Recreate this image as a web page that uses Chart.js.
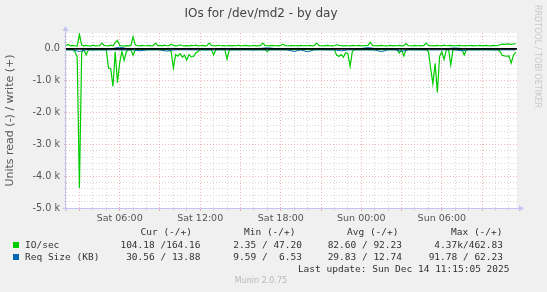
<!DOCTYPE html>
<html><head><meta charset="utf-8">
<script src="https://cdn.jsdelivr.net/npm/chart.js@4.4.1/dist/chart.umd.min.js"></script>
<style>
html,body{margin:0;padding:0;background:#f0f0f0;}
#wrap{position:relative;width:547px;height:292px;overflow:hidden;background:#f0f0f0;}
canvas{position:absolute;left:0;top:0;}
.t{position:absolute;white-space:pre;}
.mono{font-family:'DejaVu Sans Mono',monospace;font-size:9.5px;color:#333;line-height:12px;text-align:right;}
.sq{position:absolute;width:6px;height:6px;}
</style></head><body>
<div id="wrap">
<canvas id="c" width="547" height="292"></canvas>
<div class="t" style="left:0;width:522px;top:6px;text-align:center;font-family:'DejaVu Sans';font-size:12px;color:#444;line-height:15px">IOs for /dev/md2 - by day</div>
<div class="t" style="left:532px;top:5px;writing-mode:vertical-rl;font-family:'DejaVu Sans';font-size:8px;color:#c8c8c8;line-height:10px">RRDTOOL / TOBI OETIKER</div>
<div id="legend"></div>
<div class="t" style="left:0;width:522px;top:275px;text-align:center;font-family:'DejaVu Sans';font-size:8px;color:#b8b8b8;line-height:12px">Munin 2.0.75</div>
</div>
<script>
// ---- data ----
const ioStartHour = 2;        // Sat 02:00
const ioStepHours = 1/6;      // 10-minute samples
const ioWrite = [
 100,140,95,110,100,90,463,120,95,110,100,90,115,95,100,105,180,110,
 100,95,120,100,200,270,110,100,90,105,95,110,380,120,100,95,110,100,
 100,110,95,105,180,100,110,95,120,100,105,150,110,95,100,130,105,95,
 105,95,110,100,120,95,100,110,95,105,180,110,100,95,115,100,105,95,
 100,110,95,105,100,115,95,100,110,105,95,100,110,95,105,100,180,110,
 100,95,110,105,100,95,110,150,105,100,95,110,100,105,95,110,100,105,
 100,110,95,105,180,110,100,95,105,110,100,95,105,130,110,100,95,105,
 100,95,110,105,100,110,95,100,105,110,210,110,100,95,105,110,100,95,
 100,110,95,105,100,110,95,100,170,105,100,95,110,100,105,95,110,180,
 110,100,95,105,110,100,95,120,100,105,110,95,100,105,110,100,95,105,
 100,110,95,105,100,110,95,105,110,100,95,110,105,100,130,150,140,160,
 150,140,155,164.16
];
const ioRead = [
 -18,-22,-25,-18,-90,-250,-4370,-120,-25,-190,-28,-22,-18,-25,-18,-22,-28,-23,
 -25,-600,-620,-1180,-90,-1060,-430,-80,-360,-80,-25,-28,-200,-25,-22,-28,-22,-25,
 -22,-25,-18,-28,-22,-25,-23,-18,-25,-22,-28,-90,-600,-180,-230,-150,-260,-200,
 -350,-180,-250,-240,-130,-80,-25,-22,-28,-18,-25,-22,-190,-25,-22,-18,-25,-22,
 -320,-28,-22,-25,-18,-23,-25,-18,-22,-26,-22,-18,-25,-23,-22,-18,-25,-23,
 -90,-22,-25,-18,-23,-18,-25,-22,-18,-23,-25,-22,-18,-23,-25,-22,-18,-23,
 -22,-25,-18,-23,-22,-18,-25,-23,-22,-18,-25,-22,-28,-200,-230,-180,-260,-120,
 -150,-550,-80,-22,-25,-18,-23,-25,-22,-18,-23,-25,-22,-18,-25,-22,-23,-18,
 -22,-25,-18,-23,-22,-130,-25,-220,-22,-18,-25,-23,-22,-18,-25,-23,-22,-28,
 -80,-600,-1100,-450,-1370,-240,-90,-330,-28,-25,-500,-28,-22,-25,-18,-23,-190,-25,
 -22,-25,-18,-23,-22,-25,-18,-23,-22,-25,-18,-23,-22,-25,-80,-200,-220,-230,
 -220,-450,-200,-104.18
];
const reqStartHour = 2;
const reqStepHours = 0.5;     // 30-minute samples
const reqWrite = [
 14,12,15,13,16,12,14,13,55,15,
 13,14,12,15,13,14,16,12,13,14,
 15,13,12,14,13,15,14,12,13,16,
 35,14,12,13,15,14,13,12,14,13,
 15,13,14,12,13,40,14,13,15,12,
 14,13,15,12,14,13,12,14,30,13,
 14,12,13,15,14,13,12,13.88
];
const reqRead = [
 -30,-32,-80,-28,-35,-30,-33,-29,-31,-34,
 -30,-60,-32,-28,-31,-70,-33,-30,-29,-32,
 -30,-34,-31,-28,-30,-33,-29,-31,-35,-30,
 -32,-29,-30,-34,-80,-31,-92,-30,-28,-33,
 -30,-60,-32,-29,-31,-30,-34,-85,-30,-29,
 -75,-31,-30,-33,-29,-32,-30,-28,-31,-60,
 -30,-32,-29,-31,-33,-30,-29,-30.56
];
const xTickHours = [6, 12, 18, 24, 30];
const xTickLabels = ['Sat 06:00', 'Sat 12:00', 'Sat 18:00', 'Sun 00:00', 'Sun 06:00'];
const seriesNames = ['IO/sec', 'Req Size (KB)'];
const seriesColors = ['#00cc00', '#0066b3'];
const curText = ['104.18 /164.16', '30.56 / 13.88'];
const minText = ['2.35 / 47.20', '9.59 /  6.53'];
const avgText = ['82.60 / 92.23', '29.83 / 12.74'];
const maxText = ['4.37k/462.83', '91.78 / 62.23'];
const lastUpdate = 'Last update: Sun Dec 14 11:15:05 2025';

// ---- legend (HTML text) ----
(function(){
  const L = document.getElementById('legend');
  function txt(s, rightX, cy){
    const d = document.createElement('div');
    d.className = 't mono';
    d.style.right = (547 - rightX) + 'px';
    d.style.top = (cy - 6) + 'px';
    d.textContent = s;
    L.appendChild(d);
  }
  txt('Cur (-/+)', 192, 232);
  txt('Min (-/+)', 295.5, 232);
  txt('Avg (-/+)', 398.5, 232);
  txt('Max (-/+)', 502.5, 232);
  const rowsY = [245, 257];
  for (let i = 0; i < 2; i++){
    const sq = document.createElement('div');
    sq.className = 'sq';
    sq.style.left = '13px'; sq.style.top = (rowsY[i] - 3) + 'px';
    sq.style.background = seriesColors[i];
    L.appendChild(sq);
    const n = document.createElement('div');
    n.className = 't mono'; n.style.textAlign = 'left';
    n.style.left = '25px'; n.style.top = (rowsY[i] - 6) + 'px';
    n.textContent = seriesNames[i];
    L.appendChild(n);
    txt(curText[i], 200.5, rowsY[i]);
    txt(minText[i], 302, rowsY[i]);
    txt(avgText[i], 402, rowsY[i]);
    txt(maxText[i], 503, rowsY[i]);
  }
  txt(lastUpdate, 509.5, 269);
})();

// ---- chart ----
function pts(start, step, arr){ return arr.map((v, i) => ({x: start + i * step, y: v})); }

const frame = {
  id: 'frame',
  beforeDraw(chart){
    const {ctx, chartArea: a} = chart;
    ctx.save();
    ctx.fillStyle = '#ffffff';
    ctx.fillRect(a.left, a.top, a.right - a.left, a.bottom - a.top);
    ctx.restore();
  },
  afterDatasetsDraw(chart){
    const {ctx, chartArea: a, scales} = chart;
    const y0 = scales.y.getPixelForValue(0);
    ctx.save();
    ctx.strokeStyle = '#000000';
    ctx.lineWidth = 1.8;
    ctx.beginPath(); ctx.moveTo(a.left, y0); ctx.lineTo(a.right, y0); ctx.stroke();
    // axes with arrows
    const ax = '#c4c4f0';
    ctx.strokeStyle = ax; ctx.fillStyle = ax; ctx.lineWidth = 1;
    const xl = Math.round(a.left) - 0.5, yb = Math.round(a.bottom) + 0.5;
    ctx.beginPath(); ctx.moveTo(xl, yb + 3); ctx.lineTo(xl, a.top - 4); ctx.stroke();
    ctx.beginPath(); ctx.moveTo(xl - 3, a.top - 2); ctx.lineTo(xl + 3, a.top - 2); ctx.lineTo(xl, a.top - 7); ctx.closePath(); ctx.fill();
    ctx.beginPath(); ctx.moveTo(xl - 3, yb); ctx.lineTo(a.right + 2, yb); ctx.stroke();
    ctx.beginPath(); ctx.moveTo(a.right + 2, yb - 3); ctx.lineTo(a.right + 2, yb + 3); ctx.lineTo(a.right + 7, yb); ctx.closePath(); ctx.fill();
    ctx.restore();
  }
};

const red = 'rgba(240,140,140,0.65)';
const gray = 'rgba(200,200,200,0.7)';

new Chart(document.getElementById('c'), {
  type: 'line',
  data: {
    datasets: [
      {label: 'req write', data: pts(reqStartHour, reqStepHours, reqWrite), borderColor: seriesColors[1], borderWidth: 1, pointRadius: 0, tension: 0, order: 0},
      {label: 'req read', data: pts(reqStartHour, reqStepHours, reqRead), borderColor: seriesColors[1], borderWidth: 1, pointRadius: 0, tension: 0, order: 0},
      {label: 'io write', data: pts(ioStartHour, ioStepHours, ioWrite), borderColor: seriesColors[0], borderWidth: 1.2, pointRadius: 0, tension: 0, order: 1},
      {label: 'io read', data: pts(ioStartHour, ioStepHours, ioRead), borderColor: seriesColors[0], borderWidth: 1.2, pointRadius: 0, tension: 0, order: 1}
    ]
  },
  options: {
    responsive: false,
    animation: false,
    devicePixelRatio: 1,
    layout: {padding: {left: 0, right: 30, top: 33, bottom: 0}},
    plugins: {legend: {display: false}, tooltip: {enabled: false}, title: {display: false}},
    scales: {
      x: {
        type: 'linear', min: 2, max: 35.6,
        afterFit(s){ s.height = 84; },
        border: {display: false, dash: [1, 2]},
        grid: {
          color: c => (c.tick && c.tick.value % 3 === 0) ? red : gray,
          borderDash: [1, 2], tickLength: 3, tickBorderDash: [],
          tickColor: c => (c.tick && c.tick.value % 3 === 0) ? red : gray
        },
        ticks: {
          stepSize: 1, autoSkip: false, maxRotation: 0, includeBounds: false, padding: 2,
          color: '#555', font: {family: 'DejaVu Sans', size: 9.5},
          callback: v => { const k = xTickHours.indexOf(v); return k >= 0 ? xTickLabels[k] : ''; }
        }
      },
      y: {
        type: 'linear', min: -5000, max: 500,
        afterFit(s){ s.width = 66; },
        border: {display: false, dash: [1, 2]},
        title: {display: true, text: 'Units read (-) / write (+)', color: '#555', font: {family: 'DejaVu Sans', size: 11}, padding: {top: 4, bottom: 0}},
        grid: {
          color: c => (c.tick && c.tick.value % 1000 === 0) ? red : gray,
          borderDash: [1, 2], tickLength: 2, tickBorderDash: [],
          tickColor: c => (c.tick && c.tick.value % 1000 === 0) ? red : gray
        },
        ticks: {
          stepSize: 200, autoSkip: false, includeBounds: false, padding: 4,
          color: '#555', font: {family: 'DejaVu Sans', size: 9.7},
          callback: v => (v % 1000 === 0) ? (v === 0 ? '0.0' : (v / 1000).toFixed(1) + ' k') : ''
        }
      }
    }
  },
  plugins: [frame]
});
</script>
</body></html>
